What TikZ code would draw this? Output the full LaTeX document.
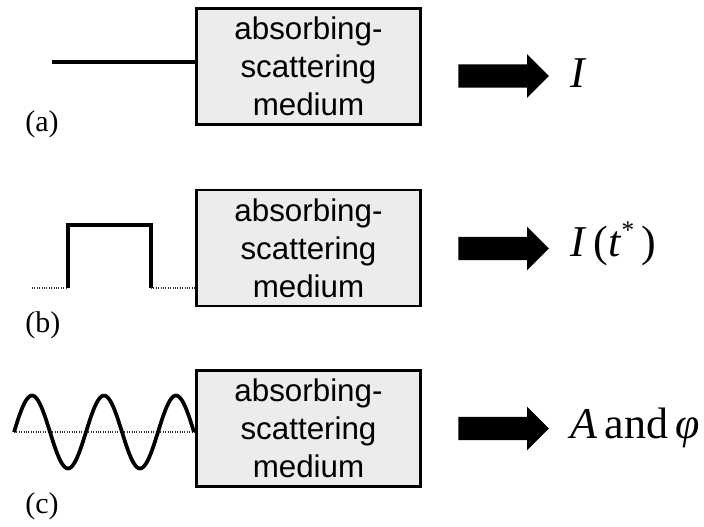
\documentclass[tikz,border=0pt]{standalone}
\usepackage{fontspec}
\setmainfont{Liberation Serif}
\setsansfont{Liberation Sans}
\usepackage{tikz}
\usetikzlibrary{shapes,arrows,positioning}
\usetikzlibrary{arrows.meta}

\begin{document}
\begin{tikzpicture}
    [x=0.75pt,y=-0.75pt,
     medium/.style={draw,line width=1.6pt,fill=gray!15,minimum width=168pt,minimum height=87pt,
       inner sep=0pt,align=center,font=\sffamily\fontsize{23.5}{28.5}\selectfont},
     sig/.style={line width=2.8pt},
     zeroline/.style={line width=0.8pt,gray!40!black,densely dotted},
     outarrow/.style={single arrow,fill=black,inner xsep=0pt,inner ysep=8.6pt,
       text height=0pt,text depth=0pt,minimum height=68pt,
       minimum width=32.5pt,single arrow head extend=7.6pt},
     result/.style={anchor=base west,inner sep=0pt,font=\fontsize{33}{40}\selectfont},
     tag/.style={anchor=base west,inner sep=0pt,font=\fontsize{22.5}{27}\selectfont}]
    \useasboundingbox (0,0) rectangle (704,527);
    \foreach \n/\y/\ay/\ty in {a/66.5/76/132,b/248/248.5/333,c/428.5/428.5/513} {
      \node[medium] (box\n) at (308.5,\y) {absorbing-\\scattering\\medium};
      \node[outarrow,anchor=tail] (arr\n) at (458,\ay) {};
      \node[tag] (tag\n) at (25,\ty) {(\n)};
    }
    \node[result] (outa) at (570,88)  {\textit{I}};
    \node[result] (outb) at (570,257) {\textit{I}\,(\textit{t}\raisebox{0.42em}{\fontsize{19}{19}\selectfont *}\,)};
    \node[result] (outc) at (570,439) {\textit{A}\,and\,\textit{φ}};
    % (a) steady input
    \coordinate (ina) at (52,62);
    \draw[sig] (ina) -- (ina -| boxa.west);
    % (b) pulse
    \coordinate (inb) at (32,288);
    \coordinate (upb) at (68,225);
    \coordinate (dnb) at (151,288);
    \draw[zeroline] (inb) -- (inb -| upb);
    \draw[sig] (inb -| upb) -- (upb) -- (upb -| dnb) -- (dnb);
    \draw[zeroline] (dnb) -- (dnb -| boxb.west);
    % (c) modulated input
    \coordinate (inc) at (14,432);
    \draw[zeroline] (inc) -- (inc -| boxc.west);
    \draw[sig,domain=14:194,samples=90,smooth] plot (\x,{432-36.5*sin(5*(\x-14))});
  \end{tikzpicture}
\end{document}
